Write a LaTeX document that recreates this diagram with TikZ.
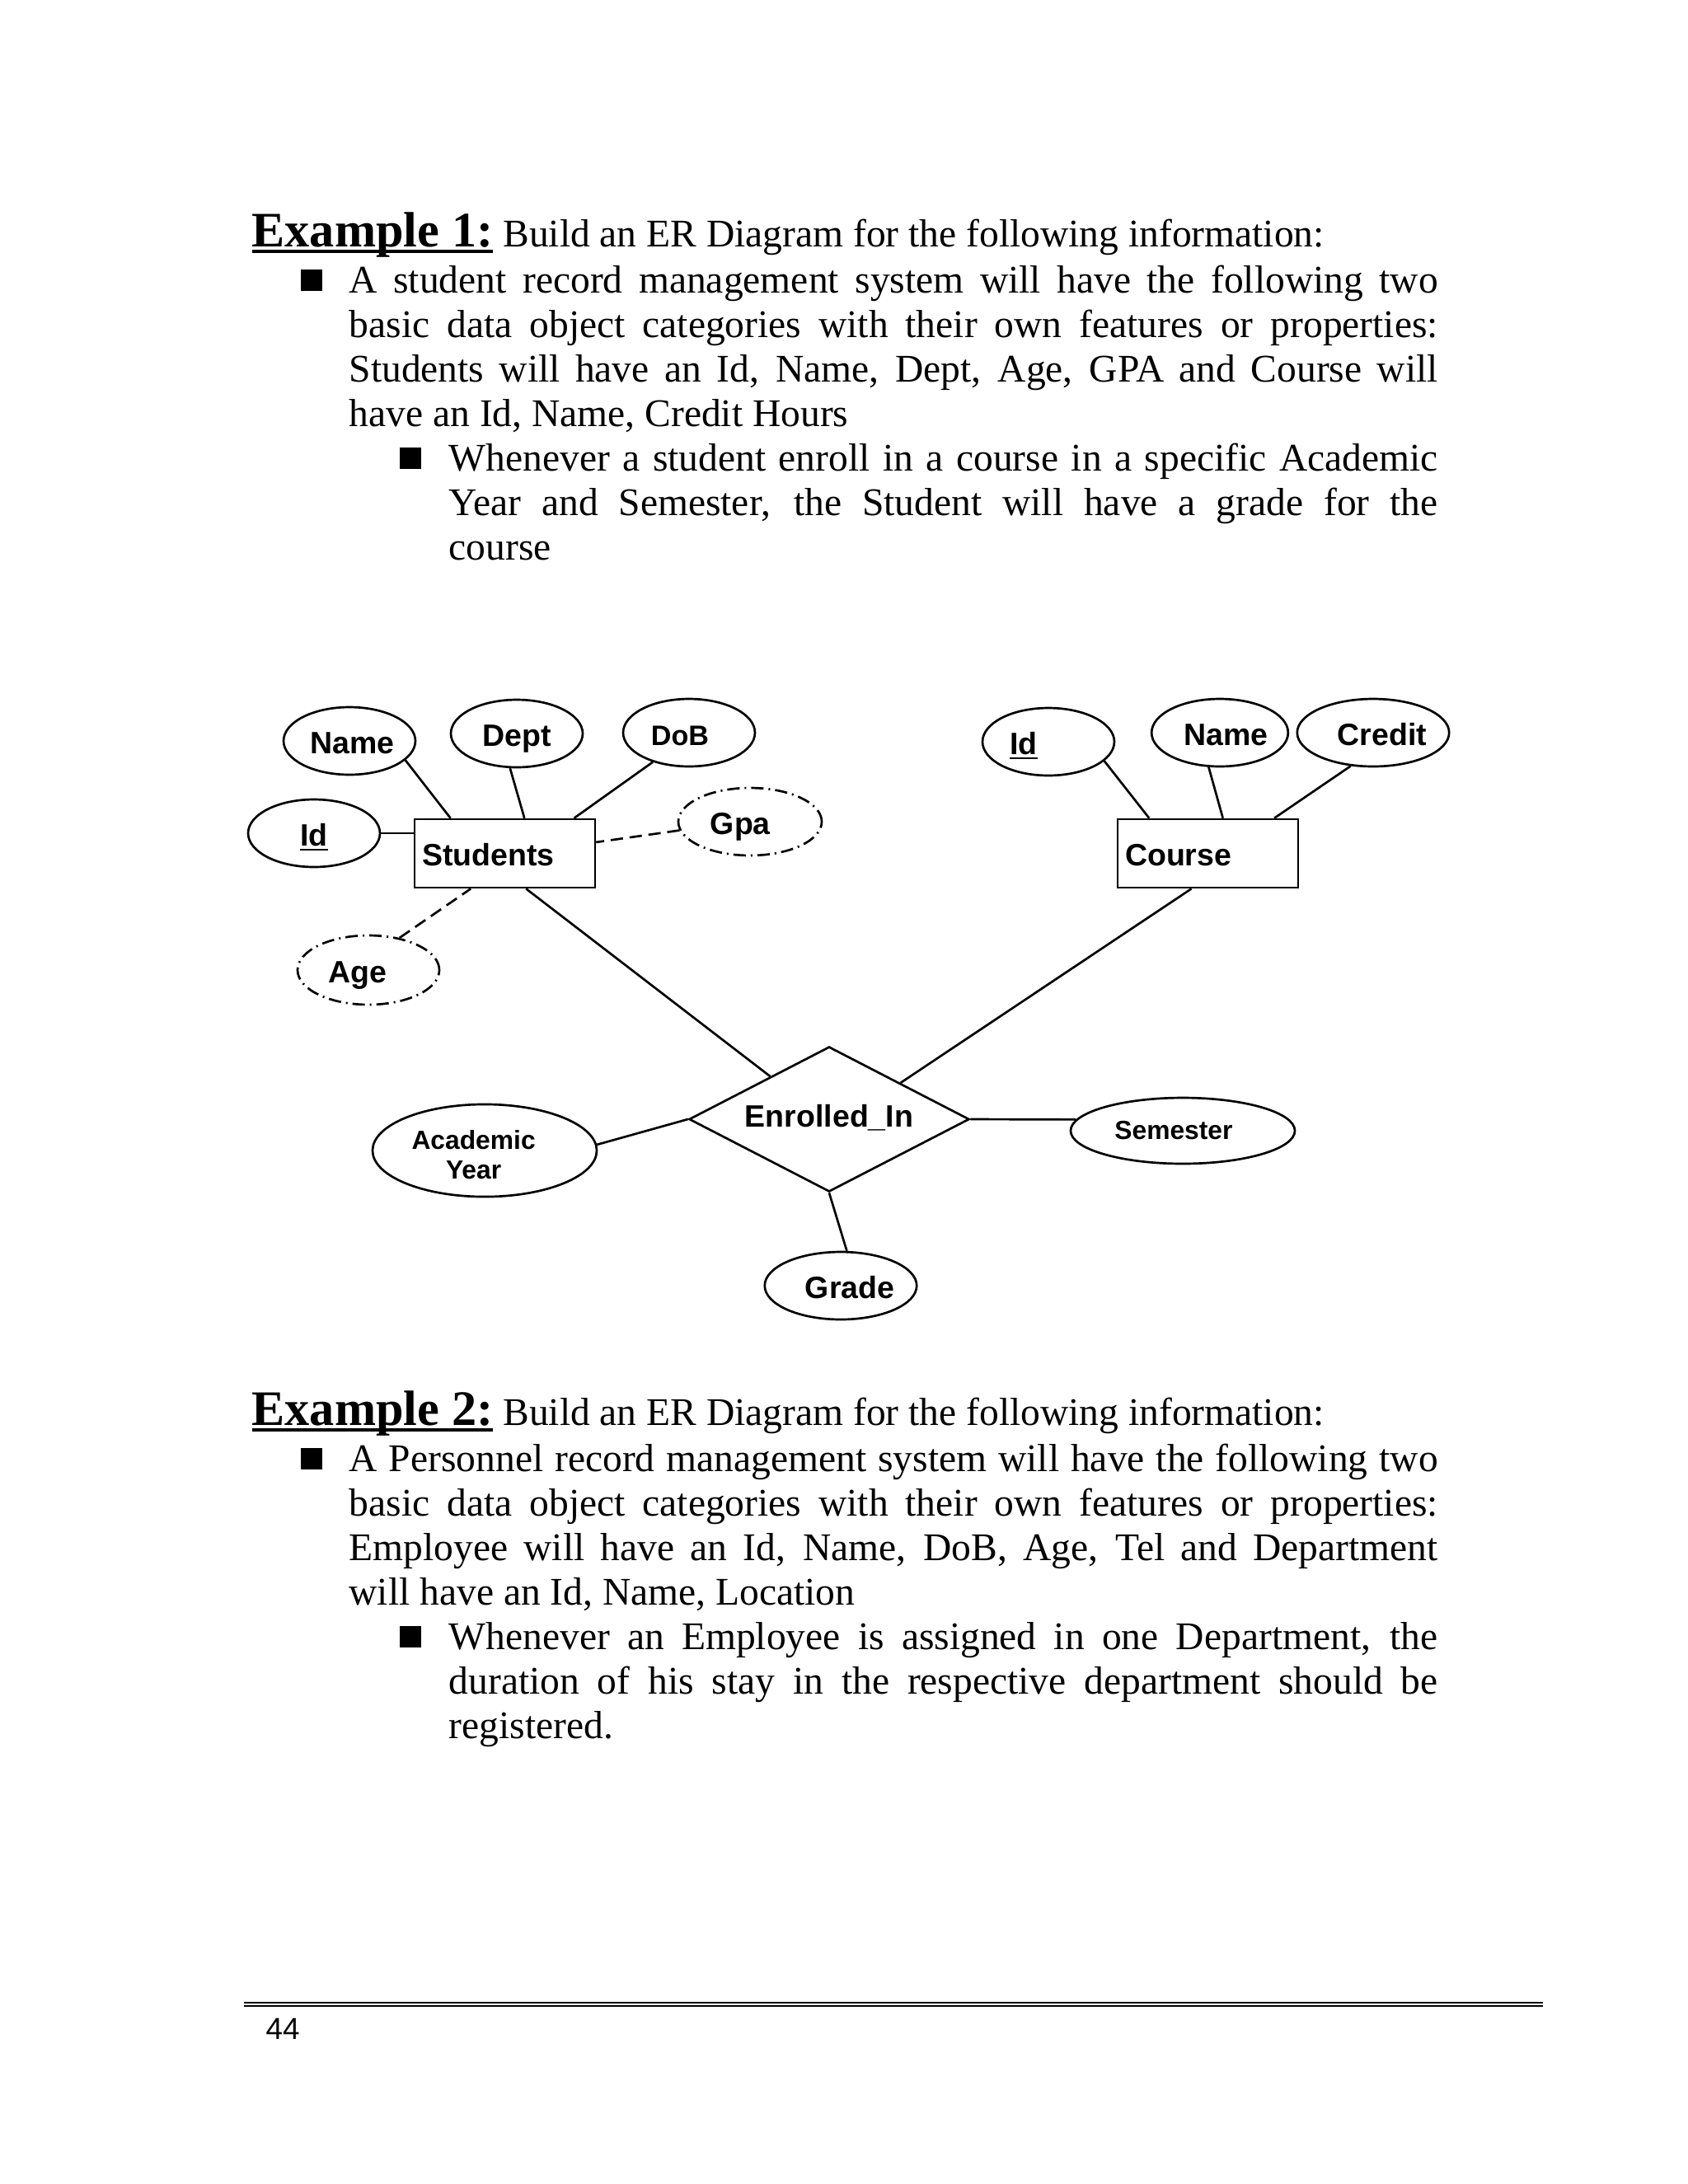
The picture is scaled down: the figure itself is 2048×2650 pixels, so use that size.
\documentclass[tikz,border=0pt]{standalone}
\usepackage{fontspec}
\setmainfont{Liberation Serif}
\newfontfamily\arialfont{Liberation Sans}
\usetikzlibrary{shapes.geometric}

\newcommand{\souligne}[1]{\setbox0=\hbox{#1}\rlap{\rule[-2.4pt]{\wd0}{1.1pt}}\box0}
\newcommand{\lignea}[1]{\makebox[394.8pt][s]{#1}}
\newcommand{\ligneb}[1]{\makebox[358.6pt][s]{#1}}

\tikzset{
  ligne/.style={anchor=base west, inner sep=0pt, font=\fontsize{14.2}{17}\selectfont},
  entite/.style={draw, rectangle, line width=0.8pt, minimum height=24.8pt, text width=60pt,
    inner xsep=2.7pt, inner ysep=0pt, align=left, text height=9pt, text depth=0pt,
    font=\arialfont\bfseries\fontsize{11.2}{13}\selectfont},
  attribut/.style={draw, ellipse, line width=0.8pt, inner sep=0pt, minimum width=47.8pt,
    minimum height=24.5pt, text height=9pt, text depth=0pt,
    font=\arialfont\bfseries\fontsize{11.2}{13}\selectfont},
  derive/.style={attribut, minimum width=52pt, dash pattern=on 4.5pt off 1.8pt on 0.6pt off 1.8pt},
  relation/.style={draw, diamond, aspect=2, line width=0.8pt, inner sep=0pt, minimum width=101.6pt,
    minimum height=52.6pt, text height=7.9pt, text depth=2.5pt,
    font=\arialfont\bfseries\fontsize{11.2}{13}\selectfont},
  lien/.style={line width=0.8pt},
  lienderive/.style={line width=0.8pt, dash pattern=on 4.5pt off 2.4pt},
}

\begin{document}
\begin{tikzpicture}[x=0.29883pt, y=-0.29883pt]
  % Définir une couleur pour le texte et le schéma
  \definecolor{trait}{RGB}{0,0,0}
  \fill[white] (0,0) rectangle (2048,2650);
  \useasboundingbox (0,0) rectangle (2048,2650);

  % Exemple 1 : énoncé
  \node[ligne, trait] (e1titre) at (305,299) {{\fontsize{18}{21}\selectfont\bfseries\souligne{Example 1:}} Build an ER Diagram for the following information:};
  \fill[trait] (365,327) rectangle (391,353);
  \node[ligne, trait] (e1a) at (423,355) {\lignea{A student record management system will have the following two}};
  \node[ligne, trait] (e1b) at (423,409) {\lignea{basic data object categories with their own features or properties:}};
  \node[ligne, trait] (e1c) at (423,463) {\lignea{Students will have an Id, Name, Dept, Age, GPA and Course will}};
  \node[ligne, trait] (e1d) at (423,517) {have an Id, Name, Credit Hours};
  \fill[trait] (485,543) rectangle (511,569);
  \node[ligne, trait] (e1e) at (544,571) {\ligneb{Whenever a student enroll in a course in a specific Academic}};
  \node[ligne, trait] (e1f) at (544,625) {\ligneb{Year and Semester, the Student will have a grade for the}};
  \node[ligne, trait] (e1g) at (544,679) {course};

  % Dessiner les entités
  \node[entite, trait] (stud) at (612.5,1035.5) {Students};
  \node[entite, trait] (cours) at (1465.5,1035.5) {Course};

  % Attributs de Students
  \node[attribut, trait] (snom) at (424,899) {\kern2pt Name};
  \node[attribut, trait] (sdept) at (627,890) {Dept};
  \node[attribut, trait, font=\arialfont\bfseries\fontsize{10.2}{12}\selectfont] (sdob) at (836,889) {DoB\kern6.6pt};
  \node[attribut, trait] (sid) at (381,1011) {\underline{Id}};
  \node[derive, trait] (sgpa) at (910,997) {Gpa\kern7pt};
  \node[derive, trait, minimum height=25.1pt, minimum width=51.4pt] (sage) at (447,1177) {Age\kern8pt};

  % Attributs de Course
  \node[attribut, trait] (cid) at (1272,900) {\underline{Id}\kern17.9pt};
  \node[attribut, trait] (cnom) at (1480,889) {\kern4.5pt Name};
  \node[attribut, trait] (ccredit) at (1666,889) {\kern6.6pt Credit};

  % Relation et ses attributs
  \node[relation, trait] (enr) at (1006,1358) {Enrolled\_In};
  \node[attribut, trait, minimum width=81.3pt, minimum height=33.5pt, align=center,
    text height=, text depth=, font=\arialfont\bfseries\fontsize{9.5}{10.8}\selectfont] (annee) at (588,1396) {\rule{0pt}{10pt}Academic\kern8pt\\Year\kern8pt};
  \node[attribut, trait, minimum width=81.3pt, minimum height=23.9pt, text height=6pt,
    font=\arialfont\bfseries\fontsize{9.5}{11}\selectfont] (semestre) at (1435,1372) {Semester\kern6.6pt};
  \node[attribut, trait, minimum width=48.4pt] (note) at (1020,1560) {\kern6.6pt Grade};

  % Dessiner les liens
  \draw[lien, trait] (snom.-19) -- (stud.147);
  \draw[lien, trait] (sdept.-101) -- (stud.61);
  \draw[lien, trait] (sdob.-141) -- (stud.27);
  \draw[lien, trait] (sid.east) -- (sid.east -| stud.west);
  \draw[lienderive, trait] (sgpa.187) -- (stud.7);
  \draw[lienderive, trait] (sage.46) -- (stud.-134);
  \draw[lien, trait] (cid.-19) -- (cours.149);
  \draw[lien, trait] (cnom.-108) -- (cours.67);
  \draw[lien, trait] (ccredit.-124) -- (cours.28);
  \draw[lien, trait] (stud.-59) -- (enr.144);
  \draw[lien, trait] (cours.-115) -- (enr.27);
  \draw[lien, trait] (annee.3) -- (enr.west);
  \draw[lien, trait] (enr.east) -- (semestre.174);
  \draw[lien, trait] (enr.south) -- (note.80);

  % Exemple 2 : énoncé
  \node[ligne, trait] (e2titre) at (305,1729) {{\fontsize{18}{21}\selectfont\bfseries\souligne{Example 2:}} Build an ER Diagram for the following information:};
  \fill[trait] (365,1757) rectangle (391,1783);
  \node[ligne, trait] (e2a) at (423,1785) {\lignea{A Personnel record management system will have the following two}};
  \node[ligne, trait] (e2b) at (423,1839) {\lignea{basic data object categories with their own features or properties:}};
  \node[ligne, trait] (e2c) at (423,1893) {\lignea{Employee will have an Id, Name, DoB, Age, Tel and Department}};
  \node[ligne, trait] (e2d) at (423,1947) {will have an Id, Name, Location};
  \fill[trait] (485,1973) rectangle (511,1999);
  \node[ligne, trait] (e2e) at (544,2001) {\ligneb{Whenever an Employee is assigned in one Department, the}};
  \node[ligne, trait] (e2f) at (544,2055) {\ligneb{duration of his stay in the respective department should be}};
  \node[ligne, trait] (e2g) at (544,2109) {registered.};

  % Pied de page
  \draw[trait, line width=0.75pt] (296,2430) -- (1872,2430);
  \draw[trait, line width=0.45pt] (296,2434) -- (1872,2434);
  \node[anchor=base west, inner sep=0pt, trait, font=\arialfont\fontsize{11}{13}\selectfont] (numpage) at (322,2474) {44};
\end{tikzpicture}
\end{document}
